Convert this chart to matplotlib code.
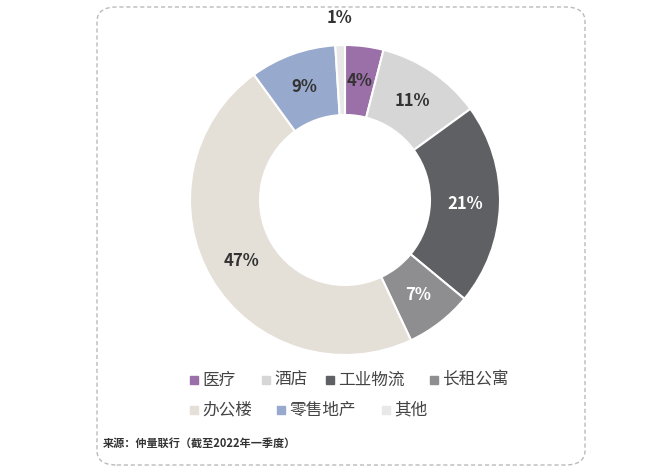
import matplotlib
matplotlib.use("Agg")
import matplotlib.pyplot as plt
from matplotlib.patches import FancyBboxPatch
import numpy as np

plt.rcParams['font.family'] = ['Noto Sans CJK SC', 'DejaVu Sans']

categories = ['医疗', '酒店', '工业物流', '长租公寓', '办公楼', '零售地产', '其他']
values = [4, 11, 21, 7, 47, 9, 1]
colors = ['#9b6fa8', '#d6d6d6', '#5f6063', '#8e8e90', '#e4dfd7', '#97a9cc', '#e8e8e8']
text_colors = ['#333333', '#333333', 'white', 'white', '#333333', '#333333', '#333333']

fig = plt.figure(figsize=(6.62, 4.75), dpi=100)
fig.patch.set_facecolor('white')
frame = FancyBboxPatch((97/662, 10/475), 488/662, 458/475, boxstyle="round,pad=0,rounding_size=0.03",
                       transform=fig.transFigure, fill=False, ec='#bbbbbb', ls=(0, (3, 2)), lw=1)
fig.patches.append(frame)

ax = fig.add_axes([(345-160)/662, 1-(200+160)/475, 320/662, 320/475])
wedges, _ = ax.pie(values, colors=colors, startangle=90, counterclock=False,
                   radius=155/160, wedgeprops=dict(width=70/160, edgecolor='white', linewidth=1.5))
ang = 90
for v, tc in zip(values, text_colors):
    mid = np.deg2rad(ang - v * 3.6 / 2)
    ang -= v * 3.6
    r = 120/160 if v > 1 else 182/160
    ax.text(r*np.cos(mid), r*np.sin(mid), f'{v}%', ha='center', va='center',
            fontsize=12, color=tc, fontweight='bold')
ax.set_xlim(-1, 1); ax.set_ylim(-1, 1); ax.set_aspect('equal')

rows = [(categories[:4], colors[:4], 380), (categories[4:], colors[4:], 410)]
xs1 = [190, 262, 326, 430]
xs2 = [190, 277, 382]
for (cats, cols, y), xs in zip(rows, [xs1, xs2]):
    for c, col, x in zip(cats, cols, xs):
        fig.patches.append(plt.Rectangle((x/662, 1-(y+4)/475), 8/662, 8/475, transform=fig.transFigure,
                                         color=col))
        fig.text((x+12)/662, 1-y/475, c, fontsize=12, color='#444444', va='center')

fig.text(103/662, 1-443/475, '来源：仲量联行（截至2022年一季度）', fontsize=8, color='#333333', va='center',
         fontweight='bold')
fig.savefig('out.png', dpi=100)
